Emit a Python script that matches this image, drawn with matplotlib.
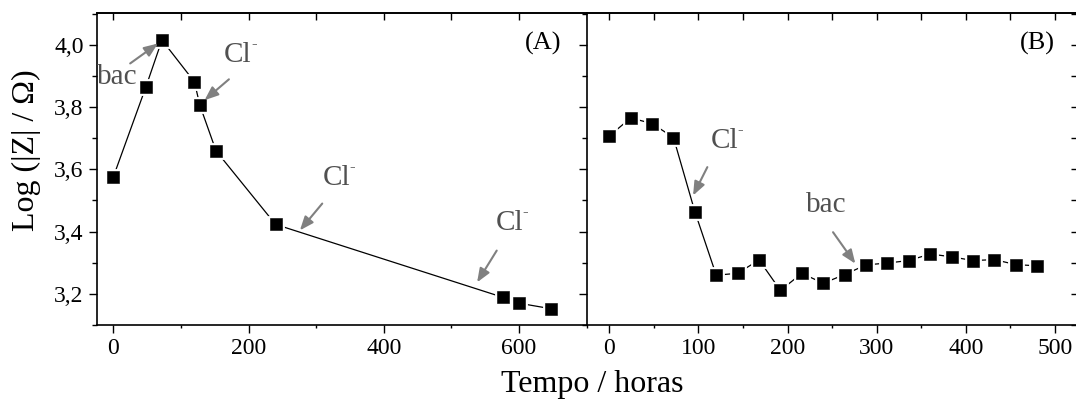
import numpy as np
import matplotlib
matplotlib.use('Agg')
import matplotlib.pyplot as plt
from matplotlib.ticker import MultipleLocator, FuncFormatter
from matplotlib.transforms import offset_copy

plt.rcParams['font.family'] = ['Liberation Serif', 'DejaVu Serif']

# (A) tempo / horas e log|Z|
time_a = [0, 48, 72, 120, 128, 152, 240, 576, 600, 648]
logz_a = [3.575, 3.863, 4.015, 3.881, 3.806, 3.659, 3.423, 3.189, 3.170, 3.152]

# (B)
time_b = [0, 24, 48, 72, 96, 120, 144, 168, 192, 216, 240, 264, 288, 312, 336,
          360, 384, 408, 432, 456, 480]
logz_b = [3.707, 3.765, 3.747, 3.702, 3.464, 3.260, 3.266, 3.309, 3.211, 3.266,
          3.234, 3.262, 3.293, 3.299, 3.307, 3.328, 3.319, 3.307, 3.310, 3.294,
          3.290]

# anotacoes: texto, posicao do texto, inicio e fim da seta
notes_a = [('bac', (6, 3.896), (25, 3.940), (66, 4.004)),
           ('Cl', (184, 3.967), (171, 3.889), (135, 3.822)),
           ('Cl', (330, 3.571), (309, 3.490), (276, 3.404)),
           ('Cl', (586, 3.426), (567, 3.339), (538, 3.237))]
notes_b = [('Cl', (129, 3.690), (110, 3.607), (94, 3.516)),
           ('bac', (243, 3.484), (251, 3.398), (276, 3.297))]

W, H = 1076, 400
GRAY_TXT = '#505050'
GRAY_ARR = '#808080'


def comma(v, pos):
    return ('%.1f' % v).replace('.', ',')


def draw_series(ax, x, y):
    ax.plot(x, y, '-', color='black', lw=0.9, zorder=1)
    # fundo branco para dar o espaco entre linha e marcador
    ax.plot(x, y, 's', ms=9.2, mfc='white', mec='white', mew=3.5, zorder=2)
    ax.plot(x, y, 's', ms=9.2, mfc='black', mec='black', mew=0.4, zorder=3)


def draw_notes(ax, notes):
    for txt, pos, start, end in notes:
        ax.text(pos[0], pos[1], txt, fontsize=21, color=GRAY_TXT,
                ha='center', va='center', zorder=4)
        if txt == 'Cl':
            tr = offset_copy(ax.transData, fig=ax.figure, x=11.6, y=8.2, units='points')
            ax.text(pos[0], pos[1], '-', fontsize=12, color=GRAY_TXT,
                    ha='center', va='center', transform=tr, zorder=4)
        ax.annotate('', xy=end, xytext=start,
                    arrowprops=dict(arrowstyle='-|>,head_length=0.55,head_width=0.22',
                                    color=GRAY_ARR, lw=1.5, mutation_scale=15,
                                    shrinkA=0, shrinkB=0), zorder=4)


def style_axis(ax, xmajor, xminor, xtop, left_labels):
    ax.set_ylim(3.1, 4.101)
    ax.xaxis.set_major_locator(MultipleLocator(xmajor))
    ax.xaxis.set_minor_locator(MultipleLocator(xminor))
    ax.yaxis.set_major_locator(MultipleLocator(0.2))
    ax.yaxis.set_minor_locator(MultipleLocator(0.1))
    ax.yaxis.set_major_formatter(FuncFormatter(comma))
    ax.tick_params(which='major', direction='out', length=5.5, width=1.0,
                   labelsize=17, pad=4, top=False, right=False, labelleft=left_labels)
    ax.tick_params(which='minor', direction='out', length=2.5, width=1.0,
                   top=False, right=False)
    ax.tick_params(axis='y', which='minor', length=3.5)
    for s in ax.spines.values():
        s.set_linewidth(1.2)
    # marcas de cima, para dentro
    sec = ax.secondary_xaxis('top')
    sec.xaxis.set_major_locator(MultipleLocator(xtop))
    sec.tick_params(direction='in', length=5, width=1.0, labeltop=False)
    sec.spines['top'].set_linewidth(1.2)


fig = plt.figure(figsize=(W / 100, H / 100), dpi=100)
bottom = 1 - 325 / H
height = (325 - 13.3) / H
x_div = 587 / W
ax_a = fig.add_axes([96.7 / W, bottom, x_div - 96.7 / W, height])
ax_b = fig.add_axes([x_div, bottom, 1078 / W - x_div, height])

draw_series(ax_a, time_a, logz_a)
ax_a.set_xlim(-24.5, 700.5)
style_axis(ax_a, 200, 100, 100, True)
ax_a.spines['right'].set_visible(False)
draw_notes(ax_a, notes_a)
ax_a.text(635, 4.005, '(A)', fontsize=19, ha='center', va='center')

draw_series(ax_b, time_b, logz_b)
ax_b.set_xlim(-25, 525.8)
style_axis(ax_b, 100, 50, 50, False)
ax_b.spines['right'].set_visible(False)
draw_notes(ax_b, notes_b)
ax_b.text(480, 4.005, '(B)', fontsize=19, ha='center', va='center')
# marcas da direita, para dentro
sec_r = ax_b.secondary_yaxis('right')
sec_r.yaxis.set_major_locator(MultipleLocator(0.2))
sec_r.yaxis.set_minor_locator(MultipleLocator(0.1))
sec_r.tick_params(which='both', direction='in', length=5, width=1.0, labelright=False)

fig.text(26 / W, 1 - 150 / H, 'Log (|Z| / \u03a9)', fontsize=23, rotation=90,
         ha='center', va='center')
fig.text(592 / W, 1 - 392 / H, 'Tempo / horas', fontsize=23, ha='center', va='baseline')

fig.savefig('out.png', dpi=100)
